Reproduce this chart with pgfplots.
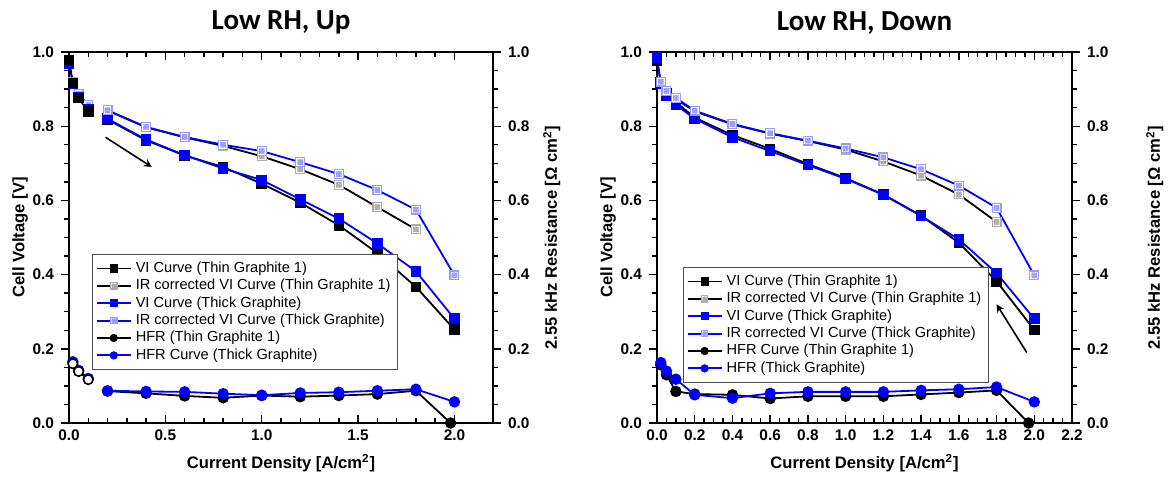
\documentclass[border=0pt]{standalone}
\usepackage{fontspec}
\setmainfont{Liberation Sans}
\newfontfamily\carlito{Carlito}
\usepackage{pgfplots}
\pgfplotsset{compat=1.18}
\pgfdeclareplotmark{sqx}{%
  \pgfpathrectangle{\pgfpoint{-\pgfplotmarksize}{-\pgfplotmarksize}}{\pgfpoint{2\pgfplotmarksize}{2\pgfplotmarksize}}%
  \pgfusepathqfillstroke
  \pgfpathcircle{\pgfpointorigin}{0.55\pgfplotmarksize}%
  \pgfpathmoveto{\pgfpoint{-0.6\pgfplotmarksize}{-0.6\pgfplotmarksize}}%
  \pgfpathlineto{\pgfpoint{0.6\pgfplotmarksize}{0.6\pgfplotmarksize}}%
  \pgfpathmoveto{\pgfpoint{-0.6\pgfplotmarksize}{0.6\pgfplotmarksize}}%
  \pgfpathlineto{\pgfpoint{0.6\pgfplotmarksize}{-0.6\pgfplotmarksize}}%
  \pgfusepathqstroke}
\pgfplotsset{
  panel/.style={scale only axis, height=185.5pt, ymin=0, ymax=1,
    ytick={0,0.2,...,1.0}, minor y tick num=3,
    xtick align=inside, ytick align=outside, ytick pos=left,
    major tick length=4pt, minor tick length=2.5pt,
    axis line style={line width=1pt}, every tick/.style={black, line width=0.7pt},
    /pgf/number format/.cd, fixed, fixed zerofill, precision=1, assume math mode=true, /pgfplots/.cd,
    tick label style={font=\fontsize{7.7}{8.5}\selectfont\bfseries},
    label style={font=\fontsize{8.3}{9.5}\selectfont\bfseries},
    title style={font=\fontsize{14.5}{16}\selectfont\carlito\bfseries, yshift=-0.8pt},
    xlabel={Current Density [A/cm\textsuperscript{2}]},
    ylabel={Cell Voltage [V]}, ylabel shift=-4.5pt,
    legend style={font=\fontsize{7.3}{8}\selectfont, draw=black!70, line width=0.5pt, fill=white, inner sep=1.5pt, row sep=-2.1pt},
    legend image post style={mark size=1.6pt},
    legend cell align=left,
  },
  rpanel/.style={scale only axis, height=185.5pt, ymin=0, ymax=1,
    axis x line=none, axis y line*=right, ytick={0,0.2,...,1.0}, minor y tick num=3,
    ytick align=outside, major tick length=4pt, minor tick length=2.5pt,
    axis line style={line width=1pt}, every tick/.style={black, line width=0.7pt},
    /pgf/number format/.cd, fixed, fixed zerofill, precision=1, assume math mode=true, /pgfplots/.cd,
    tick label style={font=\fontsize{7.7}{8.5}\selectfont\bfseries},
    label style={font=\fontsize{8.3}{9.5}\selectfont\bfseries},
    ylabel={2.55 kHz Resistance [Ω cm\textsuperscript{2}]},
  },
  vithin/.style={black, line width=0.9pt, mark=square*, mark size=2.2pt, mark options={solid, fill=black}},
  vithick/.style={blue, line width=0.9pt, mark=square*, mark size=2.2pt, mark options={solid, fill=blue}},
  irthin/.style={black, line width=0.9pt, mark=sqx, mark size=2.2pt, mark options={solid, draw=gray!65, fill=white, line width=0.6pt}},
  irthick/.style={blue, line width=0.9pt, mark=sqx, mark size=2.2pt, mark options={solid, draw=blue!40, fill=white, line width=0.6pt}},
  hfrthin/.style={black, line width=0.9pt, mark=*, mark size=2.4pt, mark options={solid, fill=black}},
  hfrthick/.style={blue, line width=0.9pt, mark=*, mark size=2.4pt, mark options={solid, fill=blue}},
}
\begin{document}
\begin{tikzpicture}
\useasboundingbox (-34.5pt,-28pt) rectangle (553.5pt,211.5pt);
% ---------------- Left panel: Low RH, Up ----------------
\begin{axis}[panel, at={(0,0)}, anchor=south west, width=212pt,
  xmin=0, xmax=2.2, xtick={0,0.5,...,2.0}, minor x tick num=4,
  title={Low RH, Up},
  legend style={at={(0.055,0.455)}, anchor=north west}]
\addplot[vithin] coordinates {(0.2,0.818) (0.4,0.762) (0.6,0.721) (0.8,0.690) (1.0,0.645) (1.2,0.594) (1.4,0.533) (1.6,0.458) (1.8,0.367) (2.0,0.252)};
\addlegendentry{VI Curve (Thin Graphite 1)}
\addplot[irthin] coordinates {(0.2,0.842) (0.4,0.797) (0.6,0.770) (0.8,0.747) (1.0,0.719) (1.2,0.684) (1.4,0.642) (1.6,0.582) (1.8,0.522)};
\addlegendentry{IR corrected VI Curve (Thin Graphite 1)}
\addplot[vithick] coordinates {(0.2,0.820) (0.4,0.764) (0.6,0.722) (0.8,0.686) (1.0,0.655) (1.2,0.603) (1.4,0.551) (1.6,0.484) (1.8,0.409) (2.0,0.281)};
\addlegendentry{VI Curve (Thick Graphite)}
\addplot[irthick] coordinates {(0.2,0.843) (0.4,0.798) (0.6,0.771) (0.8,0.750) (1.0,0.733) (1.2,0.703) (1.4,0.671) (1.6,0.628) (1.8,0.575) (2.0,0.398)};
\addlegendentry{IR corrected VI Curve (Thick Graphite)}
\addplot[hfrthin] coordinates {(0.2,0.086) (0.4,0.080) (0.6,0.073) (0.8,0.068) (1.0,0.074) (1.2,0.071) (1.4,0.074) (1.6,0.078) (1.8,0.087) (1.98,0.0)};
\addlegendentry{HFR (Thin Graphite 1)}
\addplot[hfrthick] coordinates {(0.2,0.087) (0.4,0.085) (0.6,0.084) (0.8,0.079) (1.0,0.075) (1.2,0.081) (1.4,0.083) (1.6,0.087) (1.8,0.091) (2.0,0.057)};
\addlegendentry{HFR Curve (Thick Graphite)}
% early (low current) segments, not joined to the rest
\addplot[irthick, forget plot] coordinates {(0.02,0.920) (0.05,0.887) (0.1,0.857)};
\addplot[vithick, forget plot] coordinates {(0,0.968) (0.02,0.915) (0.05,0.878) (0.1,0.845)};
\addplot[vithin, forget plot] coordinates {(0,0.978) (0.02,0.917) (0.05,0.876) (0.1,0.840)};
\addplot[hfrthick, forget plot] coordinates {(0.02,0.165) (0.05,0.142) (0.1,0.120)};
\addplot[black, line width=0.9pt, mark=*, mark size=2.4pt, mark options={solid, fill=white, line width=0.8pt}, forget plot] coordinates {(0.02,0.160) (0.05,0.139) (0.1,0.117)};
\draw[-stealth, line width=0.8pt] (axis cs:0.19,0.77) -- (axis cs:0.43,0.69);
\end{axis}
\begin{axis}[rpanel, at={(0,0)}, anchor=south west, width=212pt, xmin=0, xmax=2.2]
\end{axis}
% ---------------- Right panel: Low RH, Down ----------------
\begin{axis}[panel, at={(294pt,0)}, anchor=south west, width=207.5pt,
  xmin=0, xmax=2.2, xtick={0,0.2,...,2.2}, minor x tick num=3,
  title={Low RH, Down},
  legend style={at={(0.063,0.42)}, anchor=north west}]
\addplot[vithin] coordinates {(0,0.977) (0.02,0.918) (0.05,0.888) (0.1,0.865) (0.2,0.823) (0.4,0.776) (0.6,0.739) (0.8,0.698) (1.0,0.660) (1.2,0.616) (1.4,0.559) (1.6,0.486) (1.8,0.382) (2.0,0.251)};
\addlegendentry{VI Curve (Thin Graphite 1)}
\addplot[irthin] coordinates {(0.02,0.920) (0.05,0.892) (0.1,0.873) (0.2,0.840) (0.4,0.805) (0.6,0.780) (0.8,0.760) (1.0,0.737) (1.2,0.705) (1.4,0.667) (1.6,0.616) (1.8,0.542)};
\addlegendentry{IR corrected VI Curve (Thin Graphite 1)}
\addplot[vithick] coordinates {(0,0.985) (0.02,0.915) (0.05,0.883) (0.1,0.858) (0.2,0.820) (0.4,0.770) (0.6,0.733) (0.8,0.695) (1.0,0.658) (1.2,0.615) (1.4,0.558) (1.6,0.495) (1.8,0.404) (2.0,0.281)};
\addlegendentry{VI Curve (Thick Graphite)}
\addplot[irthick] coordinates {(0.02,0.920) (0.05,0.895) (0.1,0.876) (0.2,0.842) (0.4,0.806) (0.6,0.781) (0.8,0.761) (1.0,0.740) (1.2,0.716) (1.4,0.684) (1.6,0.640) (1.8,0.580) (2.0,0.398)};
\addlegendentry{IR corrected VI Curve (Thick Graphite)}
\addplot[hfrthin] coordinates {(0.02,0.157) (0.05,0.130) (0.1,0.085) (0.2,0.078) (0.4,0.076) (0.6,0.066) (0.8,0.072) (1.0,0.072) (1.2,0.072) (1.4,0.077) (1.6,0.082) (1.8,0.088) (1.97,0.0)};
\addlegendentry{HFR Curve (Thin Graphite 1)}
\addplot[hfrthick] coordinates {(0.02,0.163) (0.05,0.140) (0.1,0.118) (0.2,0.076) (0.4,0.067) (0.6,0.080) (0.8,0.084) (1.0,0.084) (1.2,0.084) (1.4,0.088) (1.6,0.091) (1.8,0.097) (2.0,0.057)};
\addlegendentry{HFR (Thick Graphite)}
\draw[-stealth, line width=0.8pt] (axis cs:1.96,0.19) -- (axis cs:1.80,0.32);
\end{axis}
\begin{axis}[rpanel, at={(294pt,0)}, anchor=south west, width=207.5pt, xmin=0, xmax=2.2, ylabel shift=12pt]
\end{axis}
\end{tikzpicture}
\end{document}
